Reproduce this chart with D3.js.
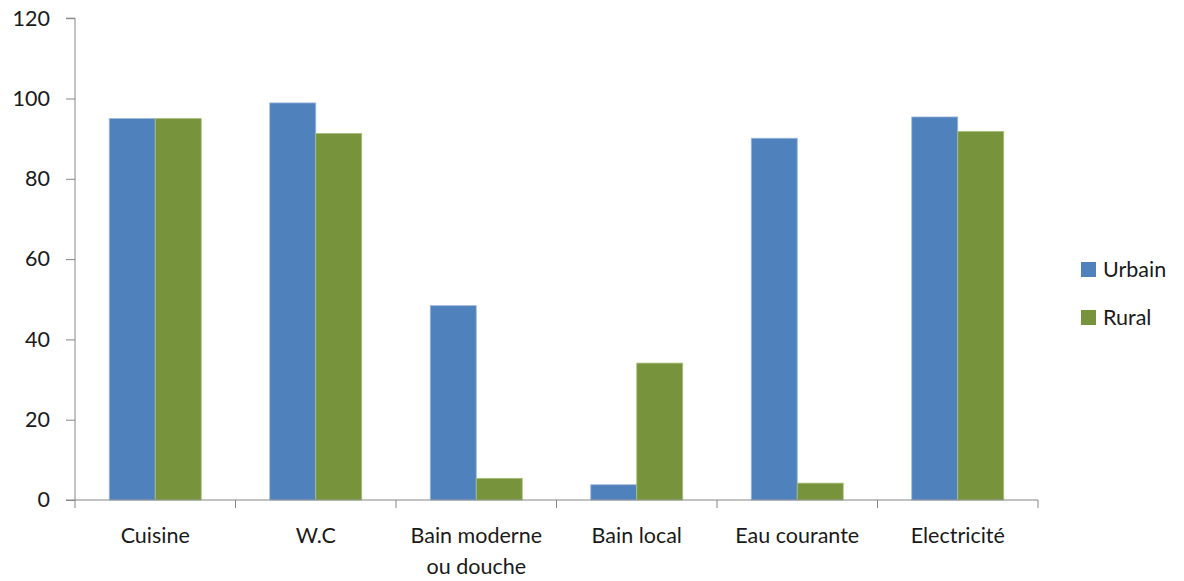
<!DOCTYPE html>
<html>
<head>
<meta charset="utf-8">
<script src="https://cdn.jsdelivr.net/npm/d3@7"></script>
<style>
  html, body { margin: 0; padding: 0; background: #fff; }
  svg { display: block; }
  text { font-family: Lato, "Open Sans", sans-serif; fill: #1a1a1a; }
</style>
</head>
<body>
<svg id="chart" width="1184" height="581"></svg>
<script>
const categories = ["Cuisine", "W.C", "Bain moderne\nou douche", "Bain local", "Eau courante", "Electricité"];
const seriesNames = ["Urbain", "Rural"];
const urbain = [95.0, 98.9, 48.4, 3.8, 90.1, 95.4];
const rural = [95.0, 91.3, 5.4, 34.1, 4.2, 91.8];
const yTicks = [0, 20, 40, 60, 80, 100, 120];
const colors = ["#4F81BD", "#77933C"];
const strokes = ["#9BB7DE", "#A9C07A"];

const svg = d3.select("#chart");
const plotLeft = 75, plotRight = 1038, plotTop = 18.2, plotBottom = 500;
const fs = "21.5px";

const x0 = d3.scaleBand().domain(categories).range([plotLeft, plotRight])
  .paddingInner(0.427).paddingOuter(0.2135);
const x1 = d3.scaleBand().domain(seriesNames).range([0, x0.bandwidth()]);
const y = d3.scaleLinear().domain([0, 120]).range([plotBottom, plotTop]);

const data = categories.map((c, i) => ({cat: c, vals: [urbain[i], rural[i]]}));

// bars
const g = svg.append("g");
data.forEach(d => {
  d.vals.forEach((v, j) => {
    g.append("rect")
      .attr("x", x0(d.cat) + x1(seriesNames[j]))
      .attr("y", y(v))
      .attr("width", x1.bandwidth())
      .attr("height", y(0) - y(v))
      .attr("fill", colors[j])
      .attr("stroke", strokes[j])
      .attr("stroke-width", 0.8);
  });
});

// y axis
const yAxis = d3.axisLeft(y).tickValues(yTicks).tickSize(9).tickPadding(16);
const ya = svg.append("g").attr("transform", `translate(${plotLeft},0)`).call(yAxis);
ya.select(".domain").attr("stroke", "#868686").attr("d", `M-9,${plotTop}H0V${plotBottom}H-9`);
ya.selectAll(".tick line").attr("stroke", "#868686");
ya.selectAll(".tick text").style("font-family", "Lato, 'Open Sans', sans-serif")
  .style("font-size", fs).attr("fill", "#1a1a1a");

// x axis
const xa = svg.append("g").attr("transform", `translate(0,${plotBottom})`);
xa.append("line").attr("x1", plotLeft).attr("x2", plotRight).attr("y1", 0).attr("y2", 0)
  .attr("stroke", "#868686");
const step = x0.step();
const boundaries = d3.range(categories.length + 1).map(i => plotLeft + i * step);
xa.selectAll("line.tk").data(boundaries).enter().append("line")
  .attr("class", "tk")
  .attr("x1", d => d).attr("x2", d => d).attr("y1", 0).attr("y2", 8)
  .attr("stroke", "#868686");
data.forEach(d => {
  const lines = d.cat.split("\n");
  const t = xa.append("text")
    .attr("x", x0(d.cat) + x0.bandwidth() / 2)
    .attr("y", 43)
    .attr("text-anchor", "middle")
    .style("font-size", fs);
  lines.forEach((ln, k) => {
    t.append("tspan").attr("x", x0(d.cat) + x0.bandwidth() / 2)
      .attr("dy", k === 0 ? 0 : 31).text(ln);
  });
});

// legend
const legend = svg.append("g");
seriesNames.forEach((s, i) => {
  const ly = 270 + i * 48;
  legend.append("rect").attr("x", 1081).attr("y", ly - 8).attr("width", 15).attr("height", 15)
    .attr("fill", colors[i]);
  legend.append("text").attr("x", 1103).attr("y", ly + 7).style("font-size", fs).text(s);
});
</script>
</body>
</html>
